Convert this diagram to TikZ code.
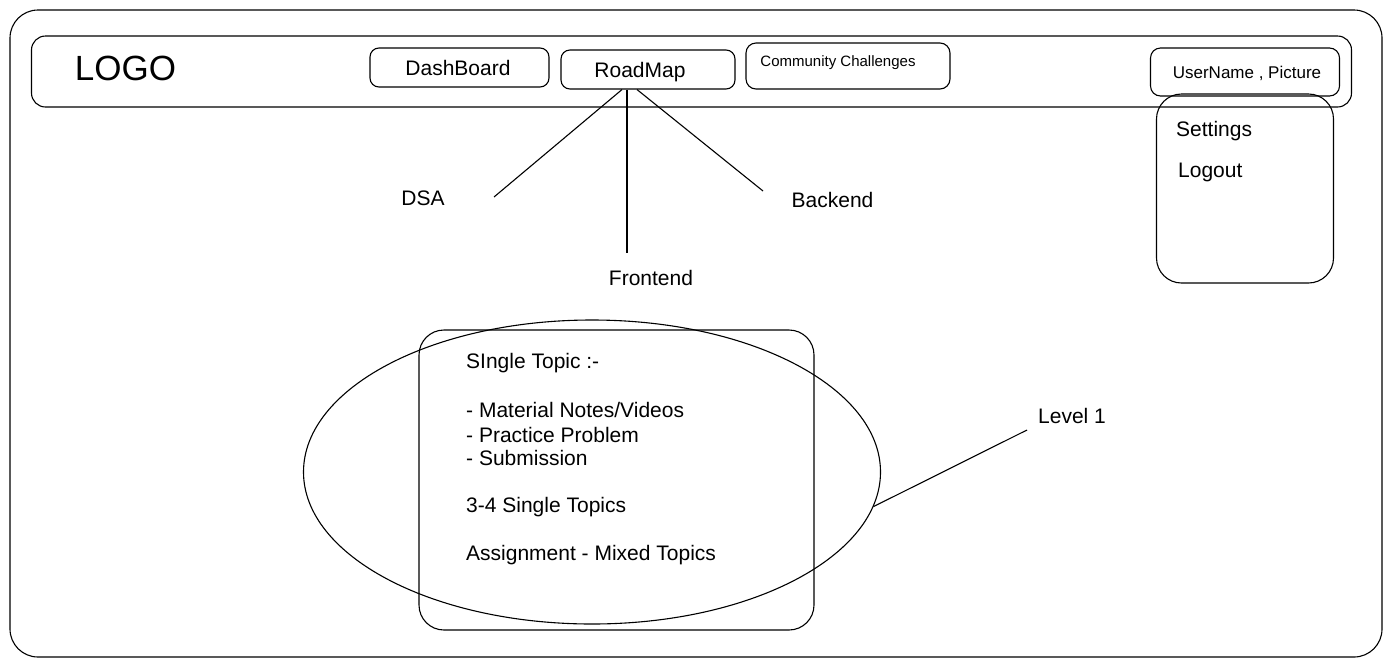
\documentclass[tikz,border=0pt]{standalone}
\usepackage{fontspec}
\setmainfont{Liberation Sans}
\usetikzlibrary{shapes.geometric}
\newcommand\myLogoFont{\fontsize{35}{40}\selectfont}
\newcommand\myMainFont{\fontsize{21}{24}\selectfont}
\newcommand\mySmallFont{\fontsize{15}{18}\selectfont}
\newcommand\myUserFont{\fontsize{17}{20}\selectfont}
\begin{document}
\begin{tikzpicture}[x=1pt,y=-1pt,
  frame/.style={draw=black, line width=1.1pt, rectangle, inner sep=0pt},
  txt/.style={inner sep=0pt, font=\myMainFont, text=black},
  wire/.style={draw=black, line width=1.1pt}]
\useasboundingbox (0,0) rectangle (1392,665);
\fill[white] (0,0) rectangle (1392,665);
% outer frame and top bar
\node[frame, minimum width=1372pt, minimum height=647pt, rounded corners=28pt] (outer) at (696,333.5) {};
\node[frame, minimum width=1320pt, minimum height=71pt, rounded corners=14pt] (bar) at (691.5,71.5) {};
\node[txt, font=\myLogoFont] (logo) at (125.5,68.5) {LOGO};
% menu buttons
\node[frame, minimum width=179pt, minimum height=39pt, rounded corners=9pt] (dash) at (459.5,67.5) {};
\node[txt] (dasht) at (458,68) {DashBoard};
\node[frame, minimum width=174pt, minimum height=39pt, rounded corners=9pt] (road) at (648,69.5) {};
\node[txt] (roadt) at (640,72) {RoadMap};
\node[frame, minimum width=204pt, minimum height=46pt, rounded corners=10pt] (comm) at (848,66) {};
\node[txt, font=\mySmallFont] (commt) at (838,63) {Community Challenges};
\node[frame, minimum width=189pt, minimum height=48pt, rounded corners=10pt] (user) at (1245,72) {};
\node[txt, font=\myUserFont] (usert) at (1247,73) {UserName , Picture};
% dropdown
\node[frame, minimum width=177pt, minimum height=189pt, rounded corners=25pt] (drop) at (1245,188.5) {};
\node[txt, anchor=west] (settings) at (1176,131) {Settings};
\node[txt, anchor=west] (logout) at (1178,172) {Logout};
% roadmap branches
\node[txt] (dsa) at (423,198) {DSA};
\node[txt] (frontend) at (651,278) {Frontend};
\node[txt] (backend) at (832.5,200) {Backend};
\coordinate (dsaEnd) at (494,197);
\coordinate (feEnd) at (627,253);
\coordinate (beEnd) at (763,191);
\draw[wire] ([xshift=-26pt]road.south) -- (dsaEnd);
\draw[wire] ([xshift=-21pt]road.south) -- (feEnd);
\draw[wire] ([xshift=-11pt]road.south) -- (beEnd);
% topic card
\node[frame, minimum width=395pt, minimum height=300pt, rounded corners=25pt] (topic) at (616.5,480) {};
\node[draw=black, line width=1.1pt, ellipse, inner sep=0pt, minimum width=577pt, minimum height=304pt] (oval) at (592,472) {};
\node[txt, anchor=west] (t1) at (466,363) {SIngle Topic :-};
\node[txt, anchor=west] (t2) at (466,410) {- Material Notes/Videos};
\node[txt, anchor=west] (t3) at (466,435) {- Practice Problem};
\node[txt, anchor=west] (t4) at (466,458) {- Submission};
\node[txt, anchor=west] (t5) at (466,507) {3-4 Single Topics};
\node[txt, anchor=west] (t6) at (466,555) {Assignment - Mixed Topics};
% level label
\node[txt] (lvl) at (1072,416) {Level 1};
\coordinate (lvlEnd) at (1027,430);
\draw[wire] (oval.-7) -- (lvlEnd);
\end{tikzpicture}
\end{document}
